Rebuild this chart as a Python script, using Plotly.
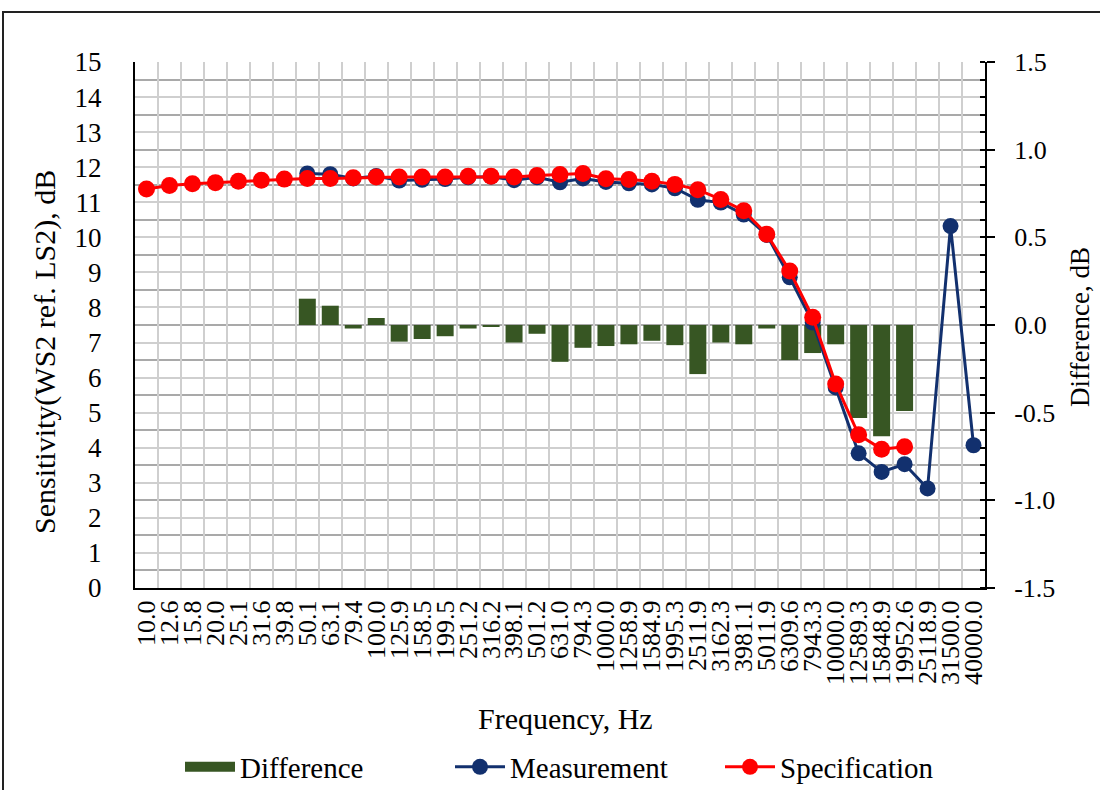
import plotly.graph_objects as go

freq_labels = ["10.0", "12.6", "15.8", "20.0", "25.1", "31.6", "39.8", "50.1", "63.1", "79.4",
               "100.0", "125.9", "158.5", "199.5", "251.2", "316.2", "398.1", "501.2", "631.0", "794.3",
               "1000.0", "1258.9", "1584.9", "1995.3", "2511.9", "3162.3", "3981.1", "5011.9", "6309.6",
               "7943.3", "10000.0", "12589.3", "15848.9", "19952.6", "25118.9", "31500.0", "40000.0"]

specification = [11.38, 11.48, 11.53, 11.56, 11.60, 11.63, 11.66, 11.68, 11.68, 11.70,
                 11.72, 11.72, 11.72, 11.72, 11.74, 11.74, 11.72, 11.76, 11.79, 11.82,
                 11.67, 11.65, 11.60, 11.51, 11.36, 11.08, 10.76, 10.09, 9.04,
                 7.72, 5.82, 4.37, 3.96, 4.03, None, None, None]

measurement = [None, None, None, None, None, None, None, 11.82, 11.80, 11.68,
               11.75, 11.62, 11.64, 11.66, 11.71, 11.73, 11.63, 11.71, 11.57, 11.68,
               11.58, 11.54, 11.51, 11.40, 11.07, 10.99, 10.65, 10.07, 8.86,
               7.57, 5.72, 3.84, 3.31, 3.53, 2.84, 10.32, 4.07]

difference = [None, None, None, None, None, None, None, 0.15, 0.11, -0.02,
              0.04, -0.095, -0.08, -0.064, -0.02, -0.01, -0.10, -0.05, -0.21, -0.13,
              -0.12, -0.11, -0.09, -0.115, -0.28, -0.10, -0.11, -0.02, -0.20,
              -0.16, -0.11, -0.53, -0.635, -0.49, None, None, None]

diff_tick_vals = [-1.5, -1.0, -0.5, 0.0, 0.5, 1.0, 1.5]
diff_tick_text = ["-1.5", "-1.0", "-0.5", "0.0", "0.5", "1.0", "1.5"]

FONT = "'Liberation Serif', 'Times New Roman', Times, serif"
NAVY = "#12306e"
RED = "#ff0000"
GREEN = "#375623"

fig = go.Figure()
fig.add_trace(go.Bar(x=freq_labels, y=difference, name="Difference",
                     marker=dict(color=GREEN, line=dict(width=0)),
                     showlegend=False, legendgroup="diff",
                     xaxis="x", yaxis="y"))
# legend entry for the bars, drawn as a wide swatch like the original
fig.add_trace(go.Scatter(x=[None], y=[None], name="Difference", mode="lines",
                         line=dict(color=GREEN, width=15), legendgroup="diff",
                         xaxis="x", yaxis="y"))
fig.add_trace(go.Scatter(x=freq_labels, y=measurement, name="Measurement",
                         mode="lines+markers", connectgaps=False,
                         line=dict(color=NAVY, width=3),
                         marker=dict(color=NAVY, size=16),
                         xaxis="x", yaxis="y2"))
fig.add_trace(go.Scatter(x=freq_labels, y=specification, name="Specification",
                         mode="lines+markers", connectgaps=False,
                         line=dict(color=RED, width=3),
                         marker=dict(color=RED, size=17),
                         xaxis="x", yaxis="y2"))

L, R, T, B = 135, 115, 62, 202
W, H = 1100, 790
pw, ph = W - L - R, H - T - B

def px(xp):
    return (xp - L) / pw

def py(yp):
    return (H - B - yp) / ph

fig.update_layout(
    width=W, height=H,
    margin=dict(l=L, r=R, t=T, b=B, autoexpand=False),
    paper_bgcolor="white", plot_bgcolor="white",
    font=dict(family=FONT, color="#000000", size=26),
    bargap=0.26,
    showlegend=True,
    legend=dict(orientation="h", x=px(585), xanchor="center", y=py(767), yanchor="middle",
                font=dict(family=FONT, size=29), entrywidth=205, entrywidthmode="pixels",
                itemwidth=50, traceorder="normal", bgcolor="rgba(0,0,0,0)"),
    xaxis=dict(type="category", tickson="boundaries", showgrid=True,
               gridcolor="#cfcfcf", gridwidth=2, ticks="", tickangle=-90,
               tickmode="array", tickvals=freq_labels, ticktext=freq_labels,
               tickfont=dict(family=FONT, size=26),
               showline=True, linecolor="#000000", linewidth=2,
               range=[-0.5, len(freq_labels) - 0.5], zeroline=False),
    yaxis=dict(side="right", range=[-1.5, 1.5],
               tickmode="array", tickvals=diff_tick_vals, ticktext=diff_tick_text,
               showgrid=False, zeroline=False, showline=True, linecolor="#000000", linewidth=2,
               ticks="outside", ticklen=8, tickwidth=2, tickcolor="#000000",
               minor=dict(dtick=0.1, tick0=0, ticks="inside", ticklen=5, tickwidth=1.5,
                          tickcolor="#000000", showgrid=False),
               tickfont=dict(family=FONT, size=26), ticklabelstandoff=14),
    yaxis2=dict(side="left", overlaying="y", range=[0, 15], dtick=1, tick0=0,
                showgrid=True, gridcolor="#cfcfcf", gridwidth=2,
                minor=dict(dtick=0.5, showgrid=True, gridcolor="#a9a9a9", gridwidth=2, ticks=""),
                zeroline=False, showline=True, linecolor="#000000", linewidth=2,
                ticks="outside", ticklen=26, tickcolor="rgba(0,0,0,0)",
                tickfont=dict(family=FONT, size=27)),
    annotations=[
        dict(text="Frequency, Hz", x=px(565), y=py(718), xref="paper", yref="paper",
             showarrow=False, xanchor="center", yanchor="middle", font=dict(family=FONT, size=30)),
        dict(text="Sensitivity(WS2 ref. LS2), dB", x=px(45), y=py(352), xref="paper", yref="paper",
             showarrow=False, xanchor="center", yanchor="middle", textangle=-90,
             font=dict(family=FONT, size=30)),
        dict(text="Difference, dB", x=px(1080), y=py(327), xref="paper", yref="paper",
             showarrow=False, xanchor="center", yanchor="middle", textangle=-90,
             font=dict(family=FONT, size=27)),
    ],
    shapes=[
        dict(type="rect", xref="paper", yref="paper", x0=px(3), x1=px(1106), y0=py(12), y1=py(796),
             line=dict(color="#222222", width=2), fillcolor="rgba(0,0,0,0)", layer="above"),
    ],
)

fig.write_html("out.html")
